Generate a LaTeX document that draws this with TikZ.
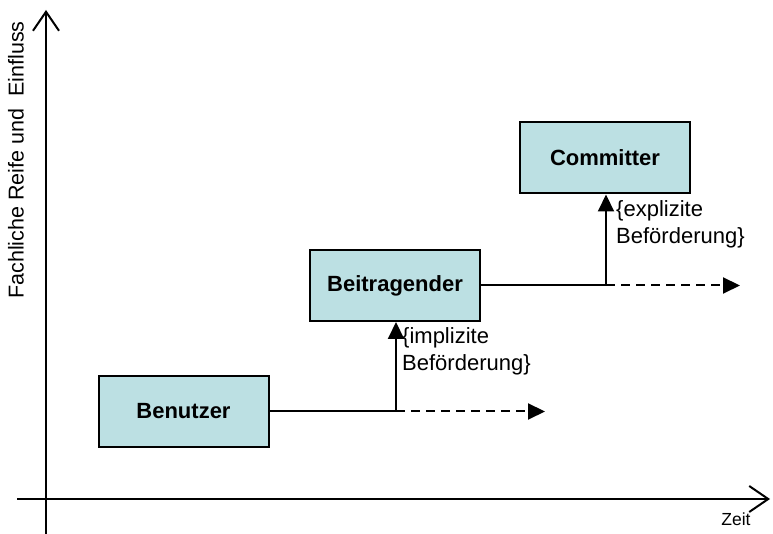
\documentclass[tikz,border=0pt]{standalone}
\usepackage{fontspec}
\setmainfont{Liberation Sans}
\usetikzlibrary{positioning, arrows.meta}

\definecolor{rollenfarbe}{HTML}{BCE0E3}

\begin{document}
\begin{tikzpicture}[x=1pt, y=1pt,
		rolle/.style={rectangle, draw, line width=2pt, fill=rollenfarbe, minimum width=170pt, minimum height=71pt, font=\fontsize{22}{26}\selectfont\bfseries},
		achse/.style={line width=2pt, -{Straight Barb[length=19pt, width=26pt, line width=2pt]}},
		aufstieg/.style={line width=2pt, -{Triangle[length=17pt, width=16pt]}},
		ausblick/.style={line width=2pt, dash pattern=on 9pt off 6pt, -{Triangle[length=17pt, width=16pt]}},
		hinweis/.style={align=left, inner sep=0pt, font=\fontsize{22}{27}\selectfont}]
	\useasboundingbox (0,0) rectangle (773,534);

	% Achsen
	\coordinate (yfuss) at (46,0);
	\coordinate (yspitze) at (46,524);
	\coordinate (xfuss) at (17,35);
	\coordinate (xspitze) at (770,35);
	\draw[achse] (yfuss) -- (yspitze);
	\draw[achse] (xfuss) -- (xspitze);
	\node[rotate=90, font=\fontsize{21.5}{24}\selectfont] (yname) at (16,374) {Fachliche Reife und\ \ Einfluss};
	\node[font=\fontsize{17.5}{20}\selectfont] (xname) at (736,15) {Zeit};

	% Rollen
	\node[rolle] (benutzer) at (183.5,122.5) {Benutzer};
	\node[rolle] (beitragender) at (395,248.5) {Beitragender};
	\node[rolle] (committer) at (605,376) {Committer};

	% Benutzer -> Beitragender
	\coordinate (knick1) at (396,122.5);
	\coordinate (weiter1) at (545,122.5);
	\draw[line width=2pt] (benutzer.east) -- (knick1);
	\draw[aufstieg] (knick1) -- (knick1 |- beitragender.south);
	\draw[ausblick] (knick1) -- (weiter1);
	\node[hinweis, anchor=north west] (implizit) at (402,207) {\{implizite\\Beförderung\}};

	% Beitragender -> Committer
	\coordinate (knick2) at (606,248.5);
	\coordinate (weiter2) at (740,248.5);
	\draw[line width=2pt] (beitragender.east) -- (knick2);
	\draw[aufstieg] (knick2) -- (knick2 |- committer.south);
	\draw[ausblick] (knick2) -- (weiter2);
	\node[hinweis, anchor=north west] (explizit) at (616,334) {\{explizite\\Beförderung\}};
\end{tikzpicture}
\end{document}
